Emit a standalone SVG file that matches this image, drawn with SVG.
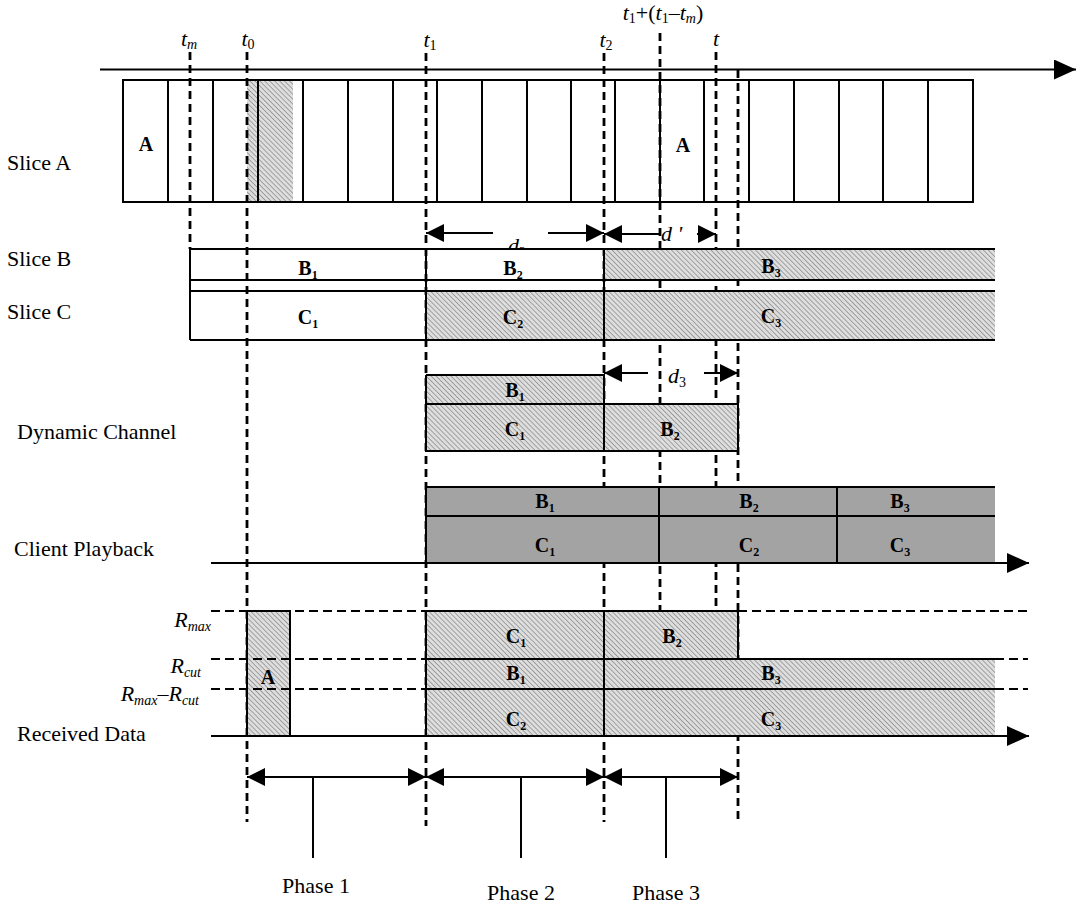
<svg xmlns="http://www.w3.org/2000/svg" width="1077" height="911" viewBox="0 0 1077 911">
<defs>
<pattern id="hatch" width="3.5" height="3.5" patternUnits="userSpaceOnUse" patternTransform="rotate(-45)">
<rect width="3.5" height="3.5" fill="#dedede"/>
<line x1="0" y1="0" x2="0" y2="3.5" stroke="#6c6c6c" stroke-width="1.1"/>
</pattern>
<marker id="ah" viewBox="0 0 18 18" refX="18" refY="9" markerWidth="18" markerHeight="18" markerUnits="userSpaceOnUse" orient="auto-start-reverse">
<path d="M0,0 L18,9 L0,18 z" fill="#000"/>
</marker>
<marker id="big" viewBox="0 0 22 20" refX="22" refY="10" markerWidth="22" markerHeight="20" markerUnits="userSpaceOnUse" orient="auto">
<path d="M0,0 L22,10 L0,20 z" fill="#000"/>
</marker>
</defs>
<style>
.sl{stroke:#000;stroke-width:2;fill:none}
.dv{stroke:#000;stroke-width:2.8;stroke-dasharray:8 5;fill:none}
.dh{stroke:#000;stroke-width:2.2;stroke-dasharray:9 5;fill:none}
.ht{fill:url(#hatch)}
.wh{fill:#fff}
.gr{fill:#a3a3a3}
.lbl{font-family:"Liberation Serif",serif;font-size:22px;fill:#000}
.bl{font-family:"Liberation Serif",serif;font-size:20px;font-weight:bold;text-anchor:middle;fill:#000}
.it{font-family:"Liberation Serif",serif;font-size:22px;font-style:italic;fill:#000}
.ar{stroke:#000;stroke-width:2;fill:none;marker-end:url(#ah)}
.ar2{stroke:#000;stroke-width:2;fill:none;marker-start:url(#ah);marker-end:url(#ah)}
</style>
<rect width="1077" height="911" fill="#fff"/>

<!-- time labels -->
<g id="time-labels">
<text class="it" x="189" y="46" text-anchor="middle">t<tspan dy="3" font-size="14">m</tspan></text>
<text class="it" x="248" y="46" text-anchor="middle">t<tspan dy="3" font-size="14" font-style="normal">0</tspan></text>
<text class="it" x="430" y="47" text-anchor="middle">t<tspan dy="3" font-size="14" font-style="normal">1</tspan></text>
<text class="it" x="606" y="47" text-anchor="middle">t<tspan dy="3" font-size="14" font-style="normal">2</tspan></text>
<text class="it" x="663" y="20" text-anchor="middle">t<tspan dy="3" font-size="14" font-style="normal">1</tspan><tspan dy="-3" font-style="normal">+(</tspan>t<tspan dy="3" font-size="14" font-style="normal">1</tspan><tspan dy="-3" font-style="normal">–</tspan>t<tspan dy="3" font-size="14">m</tspan><tspan dy="-3" font-style="normal">)</tspan></text>
<text class="it" x="716" y="46" text-anchor="middle">t</text>
</g>

<!-- top time axis -->
<g id="time-axis">
<line class="sl" x1="100" y1="69.5" x2="1076" y2="69.5" style="marker-end:url(#big)"/>
</g>

<!-- Slice A -->
<g id="slice-a">
<text class="lbl" x="7" y="170">Slice A</text>
<rect class="ht" x="247" y="80" width="46" height="122"/>
<rect class="sl" x="123" y="80" width="850" height="122"/>
<path class="sl" d="M168,80V202 M213,80V202 M258,80V202 M303,80V202 M348,80V202 M393,80V202 M437,80V202 M482,80V202 M527,80V202 M571,80V202 M615,80V202 M660,80V202 M704,80V202 M749,80V202 M794,80V202 M839,80V202 M883,80V202 M928,80V202"/>
<text class="bl" x="146" y="151">A</text>
<text class="bl" x="683" y="152">A</text>
</g>

<!-- d2 label (partly hidden by B2 cell) -->
<text class="it" x="508" y="253">d<tspan dy="4" font-size="14" font-style="normal">2</tspan></text>

<!-- Slice B / C white cell covering label -->
<g id="slice-bc-white">
<rect class="wh" x="428" y="250" width="175" height="29"/>
</g>

<!-- connectors: dashed time markers and dimension arrows -->
<g id="connectors">
<line class="dv" x1="190" y1="52" x2="190" y2="249"/>
<line class="dv" x1="247" y1="52" x2="247" y2="822"/>
<line class="dv" x1="426" y1="53" x2="426" y2="826"/>
<line class="dv" x1="604" y1="53" x2="604" y2="822"/>
<line class="dv" x1="660" y1="33" x2="660" y2="611"/>
<line class="dv" x1="716" y1="52" x2="716" y2="611"/>
<line class="dv" x1="738" y1="70" x2="738" y2="822"/>
<!-- d2 -->
<line class="ar" x1="493" y1="233" x2="426" y2="233"/>
<line class="ar" x1="548" y1="233" x2="604" y2="233"/>
<!-- d' -->
<line class="ar" x1="660" y1="234" x2="604" y2="234"/>
<line class="ar" x1="697" y1="234" x2="716" y2="234"/>
<!-- d3 -->
<line class="ar" x1="648" y1="373" x2="604" y2="373"/>
<line class="ar" x1="704" y1="373" x2="738" y2="373"/>
<!-- phases -->
<line class="ar2" x1="247" y1="777" x2="426" y2="777"/>
<line class="ar2" x1="426" y1="777" x2="604" y2="777"/>
<line class="ar2" x1="604" y1="777" x2="738" y2="777"/>
<path class="sl" d="M313,777V858 M521,777V858 M666,777V858"/>
</g>

<g id="dim-labels">
<text class="it" x="661" y="241">d '</text>
<text class="it" x="668" y="383">d<tspan dy="4" font-size="14" font-style="normal">3</tspan></text>
</g>

<!-- Slice B and C -->
<g id="slice-bc">
<text class="lbl" x="7" y="266">Slice B</text>
<text class="lbl" x="7" y="319">Slice C</text>
<rect class="ht" x="604" y="249" width="391" height="31"/>
<rect class="ht" x="426" y="291" width="569" height="49"/>
<path class="sl" d="M190,249H995 M190,280H995 M190,291H995 M190,340H995 M190,249V340 M426,249V340 M604,249V340"/>
<text class="bl" x="308" y="275">B<tspan dy="4" font-size="12">1</tspan></text>
<text class="bl" x="513" y="275">B<tspan dy="4" font-size="12">2</tspan></text>
<text class="bl" x="771" y="273">B<tspan dy="4" font-size="12">3</tspan></text>
<text class="bl" x="308" y="324">C<tspan dy="4" font-size="12">1</tspan></text>
<text class="bl" x="513" y="324">C<tspan dy="4" font-size="12">2</tspan></text>
<text class="bl" x="771" y="323">C<tspan dy="4" font-size="12">3</tspan></text>
</g>

<!-- Dynamic Channel -->
<g id="dynamic-channel">
<text class="lbl" x="17" y="439">Dynamic Channel</text>
<rect class="ht" x="426" y="375" width="178" height="76"/>
<rect class="ht" x="604" y="404" width="134" height="47"/>
<path class="sl" d="M426,375H604V451 M426,375V451H738V404H426"/>
<text class="bl" x="515" y="397">B<tspan dy="4" font-size="12">1</tspan></text>
<text class="bl" x="515" y="436">C<tspan dy="4" font-size="12">1</tspan></text>
<text class="bl" x="670" y="436">B<tspan dy="4" font-size="12">2</tspan></text>
</g>

<!-- Client Playback -->
<g id="client-playback">
<text class="lbl" x="14" y="556">Client Playback</text>
<rect class="gr" x="426" y="487" width="569" height="76"/>
<path class="sl" d="M426,487H995 M426,516H995 M426,487V563 M659,487V563 M837,487V563"/>
<line class="sl" x1="211" y1="563" x2="1029" y2="563" style="marker-end:url(#big)"/>
<text class="bl" x="545" y="508">B<tspan dy="4" font-size="12">1</tspan></text>
<text class="bl" x="545" y="552">C<tspan dy="4" font-size="12">1</tspan></text>
<text class="bl" x="749" y="508">B<tspan dy="4" font-size="12">2</tspan></text>
<text class="bl" x="749" y="552">C<tspan dy="4" font-size="12">2</tspan></text>
<text class="bl" x="900" y="508">B<tspan dy="4" font-size="12">3</tspan></text>
<text class="bl" x="900" y="552">C<tspan dy="4" font-size="12">3</tspan></text>
</g>

<!-- Received Data -->
<g id="received-data">
<text class="lbl" x="17" y="741">Received Data</text>
<text class="it" x="211" y="627" text-anchor="end">R<tspan dy="4" font-size="14">max</tspan></text>
<text class="it" x="201" y="673" text-anchor="end">R<tspan dy="4" font-size="14">cut</tspan></text>
<text class="it" x="199" y="701" text-anchor="end">R<tspan dy="4" font-size="14">max</tspan><tspan dy="-4">–R</tspan><tspan dy="4" font-size="14">cut</tspan></text>
<rect class="ht" x="247" y="611" width="43" height="125"/>
<rect class="ht" x="426" y="611" width="312" height="48"/>
<rect class="ht" x="426" y="659" width="569" height="77"/>
<path class="sl" d="M247,736V611H290V736 M426,611H738V659 M426,659H995 M426,689H995 M426,611V736 M604,611V736"/>
<path class="dh" d="M211,611H426 M738,611H1028 M211,659H426 M995,659H1028 M211,689H426 M995,689H1028"/>
<line class="sl" x1="211" y1="736" x2="1029" y2="736" style="marker-end:url(#big)"/>
<text class="bl" x="268" y="684">A</text>
<text class="bl" x="516" y="643">C<tspan dy="4" font-size="12">1</tspan></text>
<text class="bl" x="672" y="643">B<tspan dy="4" font-size="12">2</tspan></text>
<text class="bl" x="516" y="680">B<tspan dy="4" font-size="12">1</tspan></text>
<text class="bl" x="771" y="680">B<tspan dy="4" font-size="12">3</tspan></text>
<text class="bl" x="516" y="726">C<tspan dy="4" font-size="12">2</tspan></text>
<text class="bl" x="771" y="726">C<tspan dy="4" font-size="12">3</tspan></text>
</g>

<!-- Phases -->
<g id="phases">
<text class="lbl" x="316" y="893" text-anchor="middle">Phase 1</text>
<text class="lbl" x="521" y="900" text-anchor="middle">Phase 2</text>
<text class="lbl" x="666" y="900" text-anchor="middle">Phase 3</text>
</g>
</svg>
